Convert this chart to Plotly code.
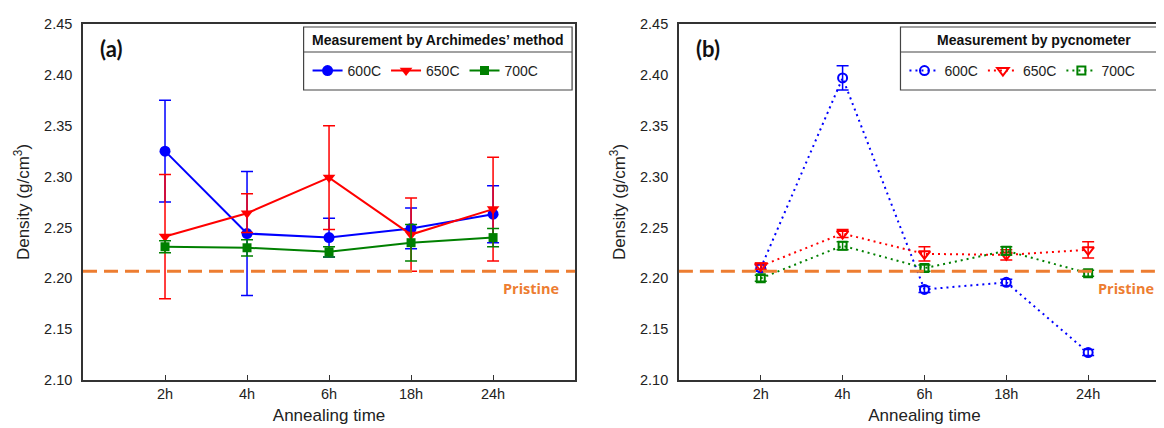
import plotly.graph_objects as go

times = ["2h", "4h", "6h", "18h", "24h"]
xpos = [1, 2, 3, 4, 5]
series_names = ["600C", "650C", "700C"]
colors = ["#0000FF", "#FF0000", "#008000"]

# (a) Archimedes' method
arch_600 = [2.325, 2.244, 2.240, 2.249, 2.263]
arch_600_err = [0.050, 0.061, 0.019, 0.020, 0.028]
arch_650 = [2.241, 2.264, 2.299, 2.243, 2.268]
arch_650_err = [0.061, 0.019, 0.051, 0.036, 0.051]
arch_700 = [2.231, 2.230, 2.226, 2.235, 2.240]
arch_700_err = [0.006, 0.008, 0.005, 0.018, 0.009]

# (b) pycnometer
pyc_600 = [2.210, 2.397, 2.189, 2.196, 2.127]
pyc_600_err = [0.003, 0.012, 0.003, 0.003, 0.003]
pyc_650 = [2.212, 2.244, 2.224, 2.223, 2.228]
pyc_650_err = [0.003, 0.004, 0.007, 0.005, 0.008]
pyc_700 = [2.200, 2.232, 2.210, 2.227, 2.205]
pyc_700_err = [0.003, 0.004, 0.003, 0.004, 0.003]

pristine = 2.207
y_ticks = [2.10, 2.15, 2.20, 2.25, 2.30, 2.35, 2.40, 2.45]

ORANGE = "#ED7D31"
AXC = "#333333"

fig = go.Figure()

arch = [(arch_600, arch_600_err), (arch_650, arch_650_err), (arch_700, arch_700_err)]
arch_sym = ["circle", "triangle-down", "square"]
arch_size = [11, 11, 9]
for name, col, (vals, errs), sym, sz in zip(series_names, colors, arch, arch_sym, arch_size):
    fig.add_trace(go.Scatter(
        x=xpos, y=vals, name=name, mode="lines+markers",
        line=dict(color=col, width=2),
        marker=dict(symbol=sym, size=sz, color=col),
        error_y=dict(type="data", array=errs, color=col, thickness=1.5, width=6),
        xaxis="x", yaxis="y", legend="legend",
    ))

pyc = [(pyc_600, pyc_600_err), (pyc_650, pyc_650_err), (pyc_700, pyc_700_err)]
pyc_sym = ["circle-open", "triangle-down-open", "square-open"]
pyc_size = [9, 10, 8]
for name, col, (vals, errs), sym, sz in zip(series_names, colors, pyc, pyc_sym, pyc_size):
    fig.add_trace(go.Scatter(
        x=xpos, y=vals, name=name, mode="lines+markers",
        line=dict(color=col, width=2, dash="2px,4px"),
        marker=dict(symbol=sym, size=sz, color=col, line=dict(width=2, color=col)),
        error_y=dict(type="data", array=errs, color=col, thickness=1.5, width=6),
        xaxis="x2", yaxis="y2", legend="legend2",
    ))

tickfont = dict(family="Arial", size=14.5, color="#222222")
titlefont = dict(family="Arial", size=17, color="#222222")

def xaxis_cfg(domain, anchor):
    return dict(
        domain=domain, anchor=anchor, range=[0, 6],
        tickmode="array", tickvals=xpos, ticktext=times,
        ticks="inside", ticklen=5, tickcolor=AXC, tickwidth=1,
        showline=True, linecolor=AXC, linewidth=1.5, mirror=True,
        showgrid=False, zeroline=False, tickfont=tickfont,
        title=dict(text="Annealing time", font=titlefont, standoff=8),
    )

def yaxis_cfg(anchor):
    return dict(
        domain=[0, 1], anchor=anchor, range=[2.10, 2.45],
        tickmode="array", tickvals=y_ticks, ticktext=[f"{v:.2f}" for v in y_ticks],
        ticks="", showline=True, linecolor=AXC, linewidth=1.5, mirror=True,
        showgrid=False, zeroline=False, tickfont=tickfont, ticklabelstandoff=6,
        title=dict(text="Density (g/cm<sup>3</sup>)", font=titlefont, standoff=10),
    )

legend_common = dict(
    orientation="h", bgcolor="rgba(0,0,0,0)", borderwidth=0,
    font=dict(family="Arial", size=14, color="#222222"),
    yanchor="middle", xanchor="left",
)

fig.update_layout(
    width=1164, height=428,
    margin=dict(l=75, r=0, t=16, b=56),
    paper_bgcolor="white", plot_bgcolor="white",
    xaxis=xaxis_cfg([0, 0.4527], "y"),
    yaxis=yaxis_cfg("x"),
    xaxis2=xaxis_cfg([0.5482, 1.0], "y2"),
    yaxis2=yaxis_cfg("x2"),
    legend=dict(x=0.2066, y=0.868, **legend_common),
    legend2=dict(x=0.7557, y=0.868, **legend_common),
    showlegend=True,
)

for xr, yr in [("x", "y"), ("x2", "y2")]:
    fig.add_shape(type="line", xref=f"{xr} domain", x0=0, x1=1, yref=yr, y0=pristine, y1=pristine,
                  line=dict(color=ORANGE, width=3, dash="14px,7px"), layer="above")
    fig.add_annotation(xref=f"{xr} domain", x=0.972, yref=yr, y=2.19, text="<b>Pristine</b>",
                       showarrow=False, xanchor="right", yanchor="middle",
                       font=dict(family="Open Sans", size=14.5, color=ORANGE))

# legend frames and titles
for xr, x0, x1, title in [("x", 0.4483, 0.9939, "Measurement by Archimedes’ method"),
                          ("x2", 0.4512, 0.996, "Measurement by pycnometer")]:
    fig.add_shape(type="rect", xref=f"{xr} domain", yref="paper", x0=x0, x1=x1, y0=0.8146, y1=0.9916,
                  line=dict(color="#444444", width=1.2), fillcolor="white", layer="above")
    fig.add_shape(type="line", xref=f"{xr} domain", yref="paper", x0=x0, x1=x1, y0=0.9213, y1=0.9213,
                  line=dict(color="#444444", width=1.2), layer="above")
    fig.add_annotation(xref=f"{xr} domain", x=(x0 + x1) / 2, yref="paper", y=0.956,
                       text=f"<b>{title}</b>", showarrow=False, xanchor="center", yanchor="middle",
                       font=dict(family="Arial", size=14, color="#111111"))

for xr, label in [("x", "(a)"), ("x2", "(b)")]:
    fig.add_annotation(xref=f"{xr} domain", x=0.03, yref="paper", y=0.93, text=f"<b>{label}</b>",
                       showarrow=False, xanchor="left", yanchor="middle",
                       font=dict(family="Lato", size=22, color="#111111"))

fig.write_html("out.html")
